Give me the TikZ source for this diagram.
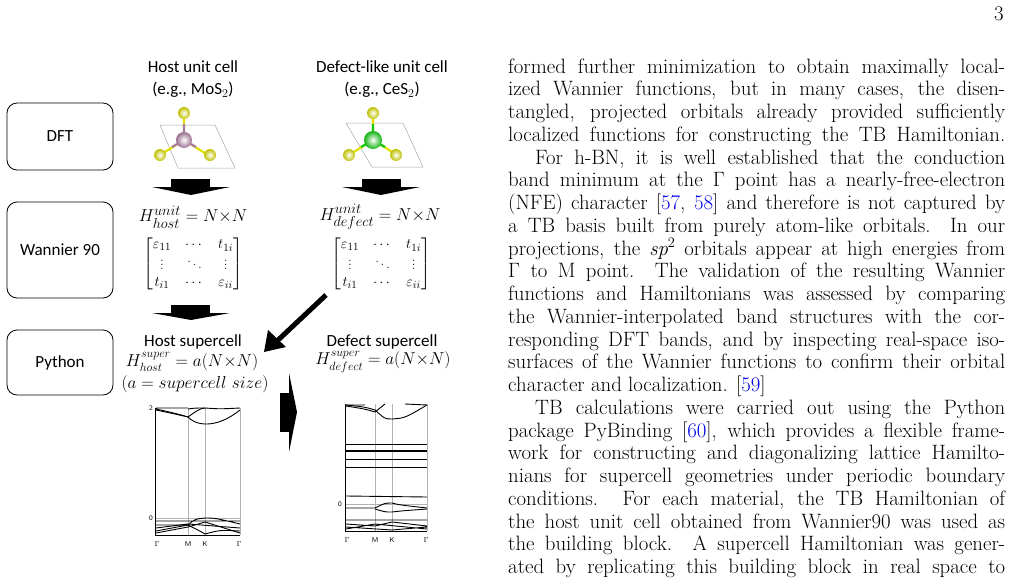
\documentclass[tikz,border=0pt]{standalone}
\usepackage{amsmath}
\usepackage{fontspec}
\newfontfamily\figfont{Carlito}
\usetikzlibrary{shapes.geometric}
\definecolor{citeblue}{RGB}{0,0,230}
\definecolor{mo}{RGB}{170,125,160}
\definecolor{ce}{RGB}{20,200,20}
\definecolor{sy}{RGB}{225,225,0}
\newcommand{\tl}[1]{\makebox[497pt][s]{#1}}
\newcommand{\ti}[1]{\makebox[470pt][s]{#1}}
\newcommand{\cit}[1]{\textcolor{citeblue}{#1}}
\setlength{\arraycolsep}{7pt}
\tikzset{
 stage/.style={draw,rounded corners=10pt,line width=0.8pt,minimum width=106pt,font=\figfont\fontsize{17}{19}\selectfont},
 ftxt/.style={font=\figfont\fontsize{17}{22}\selectfont,align=center},
 mtxt/.style={font=\fontsize{18}{20}\selectfont},
 line/.style={anchor=base west,inner sep=0pt,font=\fontsize{20.8}{23}\selectfont},
 band/.style={line width=0.9pt},
 grid/.style={gray!60,line width=0.5pt},
 tick/.style={font=\sffamily\fontsize{7}{8}\selectfont,inner sep=1pt},
 bond/.style={line width=2.2pt},
 cell/.style={gray!70,line width=0.5pt},
 sball/.style={inner color=white,outer color=sy!85!black,draw=none}
}
\begin{document}
\begin{tikzpicture}[x=1pt,y=-1pt]
\useasboundingbox (0,0) rectangle (1012,581);
\node[font=\fontsize{20.8}{22}\selectfont] (pg) at (999,14) {3};
% stage boxes
\node[stage,minimum height=67pt] (dft) at (60,136.5) {DFT};
\node[stage,minimum height=96pt] (wan) at (60,250) {Wannier 90};
\node[stage,minimum height=65pt] (py) at (60,362.5) {Python};
% headers
\node[ftxt] (h1) at (193,79) {Host unit cell\\(e.g., MoS$_2$)};
\node[ftxt] (h2) at (382,79) {Defect-like unit cell\\(e.g., CeS$_2$)};
% host molecule
\draw[cell] (160,125)--(215,125)--(235,168)--(178,168)--cycle;
\draw[bond,sy] (184,112)--(184,140) (160,155)--(184,140) (208,155)--(184,140);
\draw[bond,mo] (184,124)--(184,140) (172,147)--(184,140) (196,147)--(184,140);
\shade[inner color=white,outer color=mo!90!black] (184,140) circle (8pt);
\shade[sball] (184,113) circle (6pt); \shade[sball] (160,155) circle (6pt); \shade[sball] (210,155) circle (6pt);
% defect molecule
\draw[cell] (346,123)--(403,123)--(423,167)--(372,167)--cycle;
\draw[bond,sy] (373,112)--(373,140) (349,155)--(373,140) (397,155)--(373,140);
\draw[bond,ce] (373,124)--(373,140) (361,147)--(373,140) (385,147)--(373,140);
\shade[inner color=white,outer color=ce!90!black] (373,140) circle (9pt);
\shade[sball] (373,113) circle (6pt); \shade[sball] (349,155) circle (6pt); \shade[sball] (396,155) circle (6pt);
% down block arrows
\fill (171,179) rectangle (210,187); \fill (152,187)--(230,187)--(191,195)--cycle;
\fill (362,179) rectangle (401,187); \fill (342,187)--(420,187)--(381,195)--cycle;
\fill (171,305) rectangle (210,313); \fill (152,313)--(230,313)--(191,320)--cycle;
% unit Hamiltonians
\node[mtxt,font=\fontsize{19}{20}\selectfont] (hh) at (193,217) {$H^{unit}_{host}=N{\times}N$};
\node[mtxt,font=\fontsize{19}{20}\selectfont] (hd) at (380,217) {$H^{unit}_{defect}=N{\times}N$};
\node[mtxt,font=\fontsize{15}{17}\selectfont] (m1) at (193,264) {$\left[\begin{matrix}\varepsilon_{11}&\cdots&t_{1i}\\ \vdots&\ddots&\vdots\\ t_{i1}&\cdots&\varepsilon_{ii}\end{matrix}\right]$};
\node[mtxt,font=\fontsize{15}{17}\selectfont] (m2) at (381,264) {$\left[\begin{matrix}\varepsilon_{11}&\cdots&t_{1i}\\ \vdots&\ddots&\vdots\\ t_{i1}&\cdots&\varepsilon_{ii}\end{matrix}\right]$};
% diagonal arrow
\draw[line width=5pt] (326,295)--(276,342);
\fill (264,352)--(268,330)--(286,347)--cycle;
% supercell texts
\node[ftxt] (hs) at (193,342) {Host supercell};
\node[mtxt] (hsf) at (192,362) {$H^{super}_{host}=a(N{\times}N)$};
\node[mtxt] (hsa) at (195,384) {$(a=supercell\ size)$};
\node[ftxt] (ds) at (382,342) {Defect supercell};
\node[mtxt] (dsf) at (383,362) {$H^{super}_{defect}=a(N{\times}N)$};
% right block arrow
\fill (280,393) rectangle (290,432); \fill (289,373)--(297,412)--(289,452)--cycle;
% host bands
\begin{scope}
\draw[grid] (188,408)--(188,535) (205,408)--(205,535) (155,518)--(240,518) (240,408)--(240,535);
\draw[line width=0.7pt] (155,408)--(155,535)--(240,535);
\draw[band] (156,408)--(188,408) (156,409) .. controls (175,413) and (185,416) .. (188,417) .. controls (195,425) and (215,430) .. (240,410);
\draw[band] (188,409) .. controls (195,408) .. (205,408) .. controls (220,409) .. (240,408);
\draw[band] (156,410) .. controls (175,414) .. (188,417) .. controls (195,412) and (200,408) .. (205,408);
\draw[band] (156,521)--(240,521) (156,525)--(188,525) .. controls (195,519) .. (205,518) .. controls (215,518) .. (240,524);
\draw[band] (156,528)--(188,524)--(240,528) (156,531)--(188,525) .. controls (198,530) .. (205,534) .. controls (220,530) .. (240,531);
\draw[band] (156,533)--(188,527)--(205,522)--(240,533);
\node[tick,anchor=east] (h2l) at (154,408) {2};
\node[tick,anchor=east] (h0l) at (154,518) {0};
\node[tick] (hg1) at (157,544) {$\Gamma$};\node[tick] (hm) at (188,544) {M};\node[tick] (hk) at (205,544) {K};\node[tick] (hg2) at (239,544) {$\Gamma$};
\end{scope}
% defect bands
\begin{scope}
\draw[grid] (375,404)--(375,531) (392,404)--(392,531) (345,504)--(427,504) (427,404)--(427,531);
\draw[line width=0.7pt] (345,404)--(345,531)--(427,531);
\draw[band] (346,405) .. controls (365,407) .. (375,410) .. controls (385,419) .. (392,419) .. controls (405,418) .. (427,405);
\draw[band] (346,406) .. controls (365,409) .. (375,412) .. controls (380,408) .. (385,404);
\draw[band] (346,405)--(365,405) (405,404)--(427,405);
\draw[band] (346,444)--(427,444) (346,450)--(427,450) (346,451)--(427,451) (346,459)--(427,459) (346,467)--(427,467);
\draw[band] (346,496)--(427,497);
\draw[band] (346,508)--(375,508) .. controls (385,503) .. (392,503) .. controls (400,505) .. (427,508);
\draw[band] (375,509) .. controls (385,512) .. (392,512) .. controls (400,511) .. (427,509);
\draw[band] (346,520)--(427,520) (346,524)--(375,526)--(392,522)--(427,526) (346,527)--(392,530)--(427,527) (346,529)--(375,524)--(427,529);
\node[tick,anchor=east] (d0l) at (343,504) {0};
\node[tick] (dg1) at (347,540) {$\Gamma$};\node[tick] (dm) at (375,540) {M};\node[tick] (dk) at (392,540) {K};\node[tick] (dg2) at (426,540) {$\Gamma$};
\end{scope}
% text column
\node[line] (l1) at (508,73) {\tl{formed further minimization to obtain maximally local-}};
\node[line] (l2) at (508,95.75) {\tl{ized Wannier functions, but in many cases, the disen-}};
\node[line] (l3) at (508,118.5) {\tl{tangled, projected orbitals already provided sufficiently}};
\node[line] (l4) at (508,141.25) {\tl{localized functions for constructing the TB Hamiltonian.}};
\node[line] (l5) at (535,164) {\ti{For h-BN, it is well established that the conduction}};
\node[line] (l6) at (508,186.75) {\tl{band minimum at the $\Gamma$ point has a nearly-free-electron}};
\node[line] (l7) at (508,209.5) {\tl{(NFE) character [\cit{57}, \cit{58}] and therefore is not captured by}};
\node[line] (l8) at (508,232.25) {\tl{a TB basis built from purely atom-like orbitals. In our}};
\node[line] (l9) at (508,255) {\tl{projections, the \textit{sp}$^2$ orbitals appear at high energies from}};
\node[line] (l10) at (508,277.75) {\tl{$\Gamma$ to M point. The validation of the resulting Wannier}};
\node[line] (l11) at (508,300.5) {\tl{functions and Hamiltonians was assessed by comparing}};
\node[line] (l12) at (508,323.25) {\tl{the Wannier-interpolated band structures with the cor-}};
\node[line] (l13) at (508,346) {\tl{responding DFT bands, and by inspecting real-space iso-}};
\node[line] (l14) at (508,368.75) {\tl{surfaces of the Wannier functions to confirm their orbital}};
\node[line] (l15) at (508,391.5) {character and localization. [\cit{59}]};
\node[line] (l16) at (535,414.25) {\ti{TB calculations were carried out using the Python}};
\node[line] (l17) at (508,437) {\tl{package PyBinding [\cit{60}], which provides a flexible frame-}};
\node[line] (l18) at (508,459.75) {\tl{work for constructing and diagonalizing lattice Hamilto-}};
\node[line] (l19) at (508,482.5) {\tl{nians for supercell geometries under periodic boundary}};
\node[line] (l20) at (508,505.25) {\tl{conditions. For each material, the TB Hamiltonian of}};
\node[line] (l21) at (508,528) {\tl{the host unit cell obtained from Wannier90 was used as}};
\node[line] (l22) at (508,550.75) {\tl{the building block. A supercell Hamiltonian was gener-}};
\node[line] (l23) at (508,573.5) {\tl{ated by replicating this building block in real space to}};
\end{tikzpicture}
\end{document}
